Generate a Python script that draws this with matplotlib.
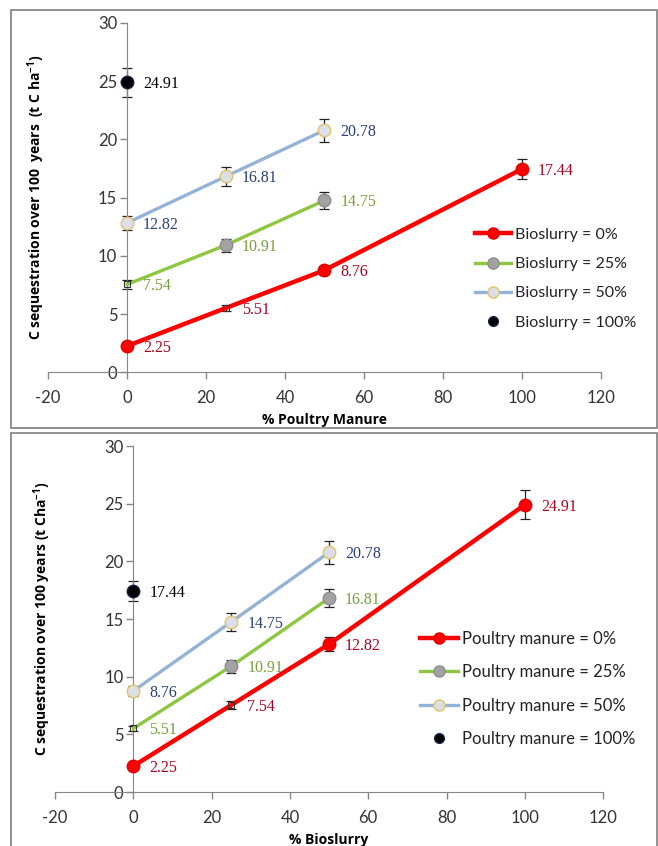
import numpy as np
import matplotlib.pyplot as plt
from matplotlib.lines import Line2D
from matplotlib.patches import Rectangle

plt.rcParams['axes.unicode_minus'] = False

# upper chart: x = % poultry manure, one series per bioslurry share
pm_x = [0, 25, 50, 100]
bs0 = [2.25, 5.51, 8.76, 17.44]
bs0_err = [0.10, 0.25, 0.40, 0.87]
bs25 = [7.54, 10.91, 14.75]
bs25_err = [0.35, 0.55, 0.75]
bs50 = [12.82, 16.81, 20.78]
bs50_err = [0.60, 0.80, 1.00]
bs100 = [24.91]
bs100_err = [1.25]
bs_labels = ['Bioslurry = 0%', 'Bioslurry = 25%', 'Bioslurry = 50%', 'Bioslurry = 100%']

# lower chart: x = % bioslurry, one series per poultry manure share
bs_x = [0, 25, 50, 100]
pm0 = [2.25, 7.54, 12.82, 24.91]
pm0_err = [0.10, 0.35, 0.60, 1.25]
pm25 = [5.51, 10.91, 16.81]
pm25_err = [0.25, 0.55, 0.80]
pm50 = [8.76, 14.75, 20.78]
pm50_err = [0.40, 0.75, 1.00]
pm100 = [17.44]
pm100_err = [0.87]
pm_labels = ['Poultry manure = 0%', 'Poultry manure = 25%',
             'Poultry manure = 50%', 'Poultry manure = 100%']

# points drawn without a round marker in the original
no_marker = {5.51, 7.54}

styles = [
    dict(line='#ff0000', lw=3.2, face='#ff0000', edge='#e00000', text='#b0001e'),
    dict(line='#8dc63f', lw=2.4, face='#a3a3a3', edge='#8c8c8c', text='#78a03c'),
    dict(line='#95b3d7', lw=2.4, face='#dcdfe8', edge='#e2c36a', text='#2a3f78'),
    dict(line=None, lw=0, face='#000000', edge='#14224a', text='#000000'),
]

SANS = 'Lato'
BOLD = 'Open Sans'
SERIF = 'Liberation Serif'


def draw(ax, x, series, errs, labels, xlabel, ylabel, leg_anchor, leg_size,
         leg_space, ylab_x, xlab_y):
    for y, e, st in zip(series, errs, styles):
        xs = np.array(x[:len(y)], dtype=float)
        ys = np.array(y)
        ax.errorbar(xs, ys, yerr=e, fmt='none', ecolor='#222222', elinewidth=0.9,
                    capsize=3.5, capthick=0.9, zorder=2)
        if st['line']:
            ax.plot(xs, ys, color=st['line'], lw=st['lw'], zorder=3,
                    solid_capstyle='round')
        show = np.array([v not in no_marker for v in ys])
        ax.plot(xs[show], ys[show], 'o', ms=9, mfc=st['face'], mec=st['edge'],
                mew=1.0, ls='none', zorder=4)
        ax.plot(xs[~show], ys[~show], 's', ms=4.5, mfc='none', mec='#333333',
                mew=0.8, ls='none', zorder=4)
        for xi, yi in zip(xs, ys):
            ax.annotate(f'{yi:.2f}', (xi, yi), xytext=(16, -2),
                        textcoords='offset pixels', ha='left', va='center',
                        family=SERIF, fontsize=11.5, color=st['text'])

    handles = []
    for st in styles:
        if st['line']:
            handles.append(Line2D([0], [0], color=st['line'], lw=st['lw'], marker='o',
                                  ms=8, mfc=st['face'], mec=st['edge']))
        else:
            handles.append(Line2D([0], [0], ls='none', marker='o', ms=7,
                                  mfc=st['face'], mec=st['edge']))
    ax.legend(handles, labels, loc='upper left', bbox_to_anchor=leg_anchor,
              frameon=False, borderpad=0, borderaxespad=0, handlelength=2.3,
              handletextpad=0.25, labelspacing=leg_space,
              prop=dict(family=SANS, size=leg_size), labelcolor='#222222')

    ax.set_xlim(-20, 120)
    ax.set_ylim(0, 30)
    ax.set_xticks(range(-20, 121, 20))
    ax.set_yticks(range(0, 31, 5))
    ax.spines['left'].set_position(('data', 0))
    ax.spines['top'].set_visible(False)
    ax.spines['right'].set_visible(False)
    for s in ('left', 'bottom'):
        ax.spines[s].set_color('#868686')
    ax.tick_params(direction='out', length=5, width=1, color='#868686',
                   labelsize=12, labelcolor='#333333')
    ax.tick_params(axis='x', pad=8)
    ax.tick_params(axis='y', pad=2)
    for t in ax.get_xticklabels() + ax.get_yticklabels():
        t.set_family(SANS)
    ax.set_xlabel(xlabel, family=BOLD, fontweight='bold', fontsize=10)
    ax.set_ylabel(ylabel, family=BOLD, fontweight='bold', fontsize=10)
    ax.xaxis.set_label_coords(0.5, xlab_y)
    ax.yaxis.set_label_coords(ylab_x, 0.5)


fig = plt.figure(figsize=(6.58, 8.46), dpi=100)
ax1 = fig.add_axes([0.073, 0.560, 0.840, 0.413])
ax2 = fig.add_axes([0.0836, 0.0638, 0.833, 0.409])

draw(ax1, pm_x, [bs0, bs25, bs50, bs100], [bs0_err, bs25_err, bs50_err, bs100_err],
     bs_labels, '% Poultry Manure',
     'C sequestration over 100  years  (t C ha$^{\\mathregular{-1}}$)',
     (0.772, 0.414), 11.5, 0.95, -0.002, -0.118)
draw(ax2, bs_x, [pm0, pm25, pm50, pm100], [pm0_err, pm25_err, pm50_err, pm100_err],
     pm_labels, '% Bioslurry',
     'C sequestration over 100 years (t Cha$^{\\mathregular{-1}}$)',
     (0.665, 0.466), 12, 1.05, -0.003, -0.118)

# panel frames
fig.patches.append(Rectangle((11 / 658, 1 - 428 / 846), 646 / 658, 418 / 846,
                             transform=fig.transFigure, fill=False,
                             ec='#7f7f7f', lw=1.2))
fig.patches.append(Rectangle((11 / 658, -0.01), 646 / 658, 1 - 433 / 846 + 0.01,
                             transform=fig.transFigure, fill=False,
                             ec='#7f7f7f', lw=1.2))

fig.savefig('out.png', dpi=100)
